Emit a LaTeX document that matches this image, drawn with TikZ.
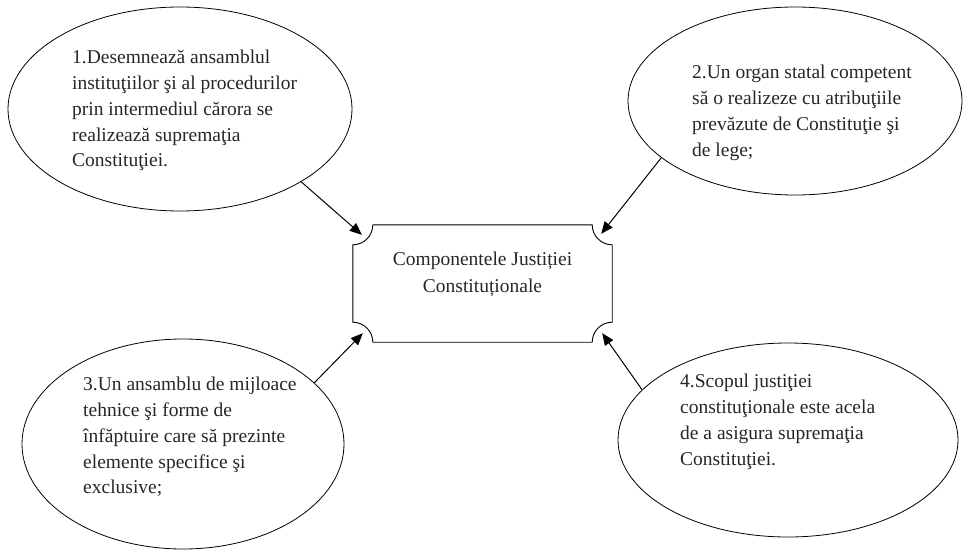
\documentclass[tikz,border=0pt]{standalone}
\usepackage{fontspec}
\setmainfont{Liberation Serif}
\usetikzlibrary{shapes.geometric,arrows.meta,calc}
\tikzset{
  oval/.style={draw=black, line width=0.8pt, ellipse, inner sep=0pt},
  txt/.style={anchor=north west, inner sep=0pt, align=left, text=black!85,
    font=\fontsize{19.5pt}{25.8pt}\selectfont},
  ctxt/.style={anchor=north, inner sep=0pt, align=center, text=black!85,
    font=\fontsize{19.5pt}{26.5pt}\selectfont},
  conn/.style={line width=1pt, -{Triangle[length=12pt,width=10pt]}},
  plaque/.style={draw=black, line width=0.9pt}
}
\begin{document}
\begin{tikzpicture}[x=1pt,y=1pt]
\useasboundingbox (0,0) rectangle (965,550);
% ellipses
\node[oval, minimum width=344pt, minimum height=204pt] (e1) at (180,441) {};
\node[oval, minimum width=334pt, minimum height=188pt] (e2) at (795,449) {};
\node[oval, minimum width=322pt, minimum height=210pt] (e3) at (183,106) {};
\node[oval, minimum width=340pt, minimum height=194pt] (e4) at (788,110) {};
% texts
\node[txt] (t1) at (72,500) {1.Desemnează ansamblul\\instituţiilor şi al procedurilor\\prin intermediul cărora se\\realizează supremaţia\\Constituţiei.};
\node[txt] (t2) at (692,485) {2.Un organ statal competent\\să o realizeze cu atribuţiile\\prevăzute de Constituţie şi\\de lege;};
\node[txt] (t3) at (83,173) {3.Un ansamblu de mijloace\\tehnice şi forme de\\înfăptuire care să prezinte\\elemente specifice şi\\exclusive;};
\node[txt] (t4) at (680,176) {4.Scopul justiţiei\\constituţionale este acela\\de a asigura supremaţia\\Constituţiei.};
% central plaque
\node[minimum width=259pt, minimum height=117pt, inner sep=0pt] (box) at (482.5,266.5) {};
\draw[plaque]
  ($(box.north west)+(20pt,0)$) -- ($(box.north east)+(-20pt,0)$)
  arc[start angle=180, end angle=270, radius=20pt]
  -- ($(box.south east)+(0,20pt)$)
  arc[start angle=90, end angle=180, radius=20pt]
  -- ($(box.south west)+(20pt,0)$)
  arc[start angle=0, end angle=90, radius=20pt]
  -- ($(box.north west)+(0,-20pt)$)
  arc[start angle=270, end angle=360, radius=20pt];
\node[ctxt] (ct) at (482.5,298) {Componentele Justiției\\Constituționale};
% arrow end points
\coordinate (p1) at ($(box.north west)+(9pt,-10pt)$);
\coordinate (p2) at ($(box.north east)+(-11pt,-9pt)$);
\coordinate (p3) at ($(box.south west)+(10pt,9pt)$);
\coordinate (p4) at ($(box.south east)+(-10pt,9pt)$);
% connectors
\draw[conn] (e1.-31.7) -- (p1);
\draw[conn] (e2.203.9) -- (p2);
\draw[conn] (e3.25.8) -- (p3);
\draw[conn] (e4.161.9) -- (p4);
\end{tikzpicture}
\end{document}
